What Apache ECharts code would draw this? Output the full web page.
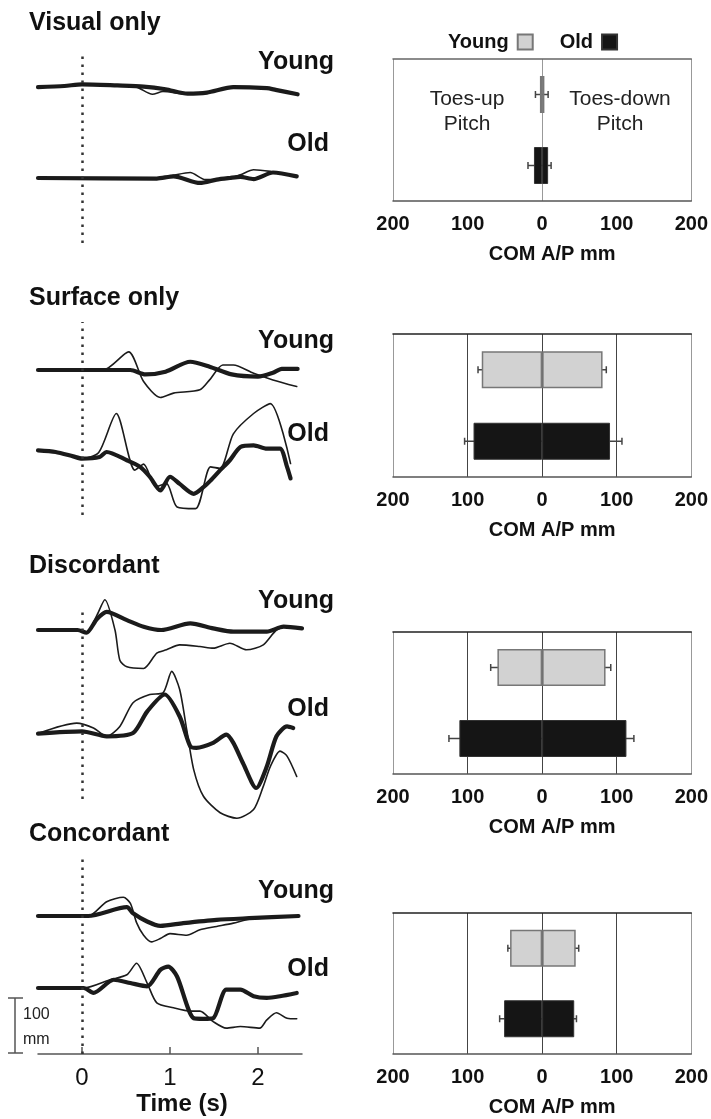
<!DOCTYPE html>
<html>
<head>
<meta charset="utf-8">
<script src="https://cdn.jsdelivr.net/npm/echarts@6/dist/echarts.min.js"></script>
<style>
html, body { margin: 0; padding: 0; background: #fff; }
#main { width: 711px; height: 1119px; }
</style>
</head>
<body>
<div id="main"></div>
<script>
// ---- data ----
var conditions = ['Visual only', 'Surface only', 'Discordant', 'Concordant'];
var groups = ['Old', 'Young'];          // category order, bottom to top
var timeTicks = [0, 1, 2];

// COM traces: [time s, displacement mm], up is positive
var visualYoungThick = [[-0.5,-2],[-0.2,0],[0,3],[0.4,1],[0.7,-1],[0.95,-6],[1.2,-14],[1.42,-12],[1.72,-2],[2.1,-4],[2.2,-7],[2.45,-15]];
var visualYoungThin = [[-0.5,-2],[-0.2,0],[0,3],[0.4,1],[0.62,-2],[0.8,-15],[0.92,-10],[1.2,-15],[1.42,-12],[1.72,-1],[2.1,-3],[2.2,-8],[2.45,-15]];
var visualOldThick = [[-0.5,0],[0.85,-1],[1.04,3],[1.34,-9],[1.53,-3],[1.68,0],[1.8,2],[1.95,-2],[2.17,10],[2.44,3]];
var visualOldThin = [[-0.5,0],[0.85,-1],[1.04,5],[1.23,10],[1.4,-3],[1.53,-3],[1.68,0],[1.8,6],[1.95,15],[2.14,12],[2.17,10],[2.44,3]];

var surfaceYoungThick = [[-0.5,0],[0.55,0],[0.72,-8],[0.95,-3],[1.23,15],[1.45,6],[1.7,-8],[2.0,-12],[2.17,-5],[2.27,2],[2.45,2]];
var surfaceYoungThin = [[-0.5,0],[0.24,0],[0.53,33],[0.7,-21],[0.89,-50],[1.04,-42],[1.34,-36],[1.45,-18],[1.6,9],[1.72,9],[1.95,-6],[2.17,-18],[2.44,-30]];
var surfaceOldThick = [[-0.5,3],[-0.3,0],[-0.1,-8],[0,-12],[0.2,-9],[0.28,0],[0.51,-15],[0.66,-27],[0.77,-45],[0.89,-70],[1.0,-45],[1.11,-58],[1.27,-76],[1.38,-64],[1.46,-52],[1.57,-33],[1.68,-15],[1.8,9],[1.95,12],[2.1,6],[2.25,6],[2.33,-27],[2.37,-48]];
var surfaceOldThin = [[-0.5,3],[-0.3,0],[-0.1,-8],[0,-12],[0.19,-1],[0.39,70],[0.6,-33],[0.7,-22],[0.84,-63],[0.96,-57],[1.08,-100],[1.29,-103],[1.46,-27],[1.57,-30],[1.72,33],[1.95,70],[2.14,88],[2.37,-21]];

var discordantYoungThick = [[-0.5,0],[-0.05,0],[0.05,-5],[0.17,20],[0.28,33],[0.51,18],[0.7,6],[0.9,0],[1.23,12],[1.49,3],[1.72,-3],[2.1,-3],[2.29,6],[2.5,3]];
var discordantYoungThin = [[-0.5,0],[-0.05,0],[0.05,-5],[0.17,27],[0.26,55],[0.375,0],[0.43,-55],[0.51,-67],[0.7,-70],[0.85,-42],[0.96,-36],[1.11,-27],[1.34,-30],[1.49,-33],[1.68,-24],[1.87,-36],[2.06,-27],[2.21,0],[2.33,6],[2.5,3]];
var discordantOldThick = [[-0.5,-1],[0,3],[0.28,-6],[0.58,0],[0.74,39],[0.94,70],[1.11,30],[1.23,-24],[1.3,-27],[1.49,-18],[1.64,-3],[1.72,-18],[1.83,-55],[1.98,-100],[2.1,-61],[2.21,-6],[2.33,12],[2.4,9]];
var discordantOldThin = [[-0.5,-1],[-0.06,18],[0.13,9],[0.28,-6],[0.43,12],[0.58,55],[0.77,70],[0.92,73],[1.02,112],[1.11,79],[1.19,6],[1.27,-67],[1.38,-115],[1.57,-145],[1.76,-155],[1.95,-139],[2.06,-97],[2.14,-61],[2.25,-33],[2.33,-42],[2.44,-79]];

var concordantYoungThick = [[-0.5,0],[0.07,0],[0.51,16],[0.58,5],[0.74,-10],[0.89,-18],[1.15,-13],[1.53,-7],[1.9,-4],[2.46,0]];
var concordantYoungThin = [[-0.5,0],[0.07,0],[0.28,26],[0.47,34],[0.55,23],[0.62,-12],[0.7,-35],[0.79,-47],[0.89,-41],[1.0,-32],[1.19,-35],[1.34,-25],[1.53,-19],[1.72,-13],[1.9,-6],[2.46,0]];
var concordantOldThick = [[-0.5,0],[0.02,0],[0.13,-9],[0.36,15],[0.55,9],[0.74,3],[0.89,33],[0.98,39],[1.08,21],[1.27,-55],[1.38,-56],[1.49,-55],[1.64,-3],[1.8,-3],[1.95,-15],[2.1,-18],[2.25,-15],[2.44,-9]];
var concordantOldThin = [[-0.5,0],[0.02,0],[0.32,15],[0.51,24],[0.62,45],[0.74,9],[0.85,-27],[1.04,-36],[1.23,-42],[1.34,-42],[1.49,-61],[1.64,-73],[1.8,-70],[2.02,-73],[2.1,-58],[2.21,-45],[2.33,-55],[2.44,-56]];

// COM A/P peak (mm), toes-up negative, toes-down positive; one value per condition
var youngToesUp = [-3, -81, -60, -43];
var youngToesDown = [3, 81, 85, 45];
var youngUpErr = [-9, -86, -69, -46];
var youngDownErr = [8, 86, 92, 49];
var oldToesUp = [-11, -92, -111, -51];
var oldToesDown = [8, 91, 113, 43];
var oldUpErr = [-19, -104, -125, -57];
var oldDownErr = [12, 107, 123, 46];

var youngThick = [visualYoungThick, surfaceYoungThick, discordantYoungThick, concordantYoungThick];
var youngThin = [visualYoungThin, surfaceYoungThin, discordantYoungThin, concordantYoungThin];
var oldThick = [visualOldThick, surfaceOldThick, discordantOldThick, concordantOldThick];
var oldThin = [visualOldThin, surfaceOldThin, discordantOldThin, concordantOldThin];

// ---- layout ----
var FONT = 'Liberation Sans, Arial, sans-serif';
var MM = 0.55;                 // px per mm on the trace panels
var leftPanels = [
    {top: 52, bottom: 243, young: 86, old: 178, title: 23, youngLab: 62, oldLab: 144},
    {top: 322, bottom: 515, young: 370, old: 452, title: 298, youngLab: 341, oldLab: 434},
    {top: 607, bottom: 799, young: 630, old: 733, title: 566, youngLab: 601, oldLab: 709},
    {top: 857, bottom: 1054, young: 916, old: 988, title: 834, youngLab: 891, oldLab: 969}
];
var rightPanels = [
    {top: 59, height: 142}, {top: 334, height: 143}, {top: 632, height: 142}, {top: 913, height: 141}
];

var myChart = echarts.init(document.getElementById('main'));

var grids = [], xAxes = [], yAxes = [], series = [], graphics = [];

function trace(data, idx, thick) {
    return {
        type: 'line', xAxisIndex: idx, yAxisIndex: idx, data: data,
        symbol: 'none', smooth: 0.25, clip: false, silent: true,
        lineStyle: {color: '#1b1b1b', width: thick ? 4.2 : 1.6, cap: 'round', join: 'round'},
        z: thick ? 3 : 4
    };
}

leftPanels.forEach(function(p, i) {
    [p.young, p.old].forEach(function(base, k) {
        var idx = grids.length;
        var last = (i === 3 && k === 0);
        grids.push({left: 38, width: 264, top: p.top, height: p.bottom - p.top});
        xAxes.push({
            gridIndex: idx, type: 'value', min: -0.5, max: 2.5, position: 'bottom',
            show: last,
            axisLine: {onZero: false, lineStyle: {color: '#555', width: 1.5}},
            axisTick: {inside: true, length: 7, customValues: timeTicks, lineStyle: {color: '#555', width: 1.5}},
            axisLabel: {customValues: timeTicks, fontSize: 24, color: '#111', margin: 12, fontFamily: FONT},
            splitLine: {show: false},
            name: 'Time (s)', nameLocation: 'middle', nameGap: 38,
            nameTextStyle: {fontSize: 24, fontWeight: 'bold', color: '#111', fontFamily: FONT, padding: [0, 0, 0, 24]}
        });
        yAxes.push({
            gridIndex: idx, type: 'value', show: false,
            min: -(p.bottom - base) / MM, max: (base - p.top) / MM,
            splitLine: {show: false}
        });
        var thick = trace(k === 0 ? youngThick[i] : oldThick[i], idx, true);
        var thin = trace(k === 0 ? youngThin[i] : oldThin[i], idx, false);
        if (k === 0) {
            thick.markLine = {
                silent: true, symbol: 'none', label: {show: false},
                lineStyle: {color: '#333', type: [2.5, 5.5], width: 2.5},
                data: [{xAxis: 0}]
            };
        }
        series.push(thick, thin);
    });
    graphics.push(
        {type: 'text', x: 29, y: p.title, style: {text: conditions[i], font: 'bold 25px ' + FONT, fill: '#111', verticalAlign: 'middle'}},
        {type: 'text', x: 334, y: p.youngLab, style: {text: 'Young', font: 'bold 25px ' + FONT, fill: '#111', align: 'right', verticalAlign: 'middle'}},
        {type: 'text', x: 329, y: p.oldLab, style: {text: 'Old', font: 'bold 25px ' + FONT, fill: '#111', align: 'right', verticalAlign: 'middle'}}
    );
});

function errorItem(params, api) {
    var a = api.coord([api.value(0), api.value(2)]);
    var b = api.coord([api.value(1), api.value(2)]);
    var h = 3.5, st = {stroke: '#444', lineWidth: 1.5};
    return {type: 'group', children: [
        {type: 'line', shape: {x1: a[0], y1: a[1], x2: b[0], y2: b[1]}, style: st},
        {type: 'line', shape: {x1: a[0], y1: a[1] - h, x2: a[0], y2: a[1] + h}, style: st},
        {type: 'line', shape: {x1: b[0], y1: b[1] - h, x2: b[0], y2: b[1] + h}, style: st}
    ]};
}

rightPanels.forEach(function(p, i) {
    var idx = grids.length;
    var splitColors = i === 0
        ? ['#999', 'rgba(0,0,0,0)', '#999', 'rgba(0,0,0,0)', '#999']
        : ['#999', '#444', '#444', '#444', '#999'];
    grids.push({left: 393, width: 300, top: p.top, height: p.height});
    xAxes.push({
        gridIndex: idx, type: 'value', min: -200, max: 200, interval: 100, position: 'bottom',
        axisLine: {show: true, onZero: false, lineStyle: {color: '#555', width: 1.5}},
        axisTick: {inside: true, length: 5, lineStyle: {color: '#555'}},
        axisLabel: {formatter: function(v) { return Math.abs(v); }, fontSize: 20, fontWeight: 'bold', color: '#111', margin: 13, fontFamily: FONT},
        splitLine: {show: true, lineStyle: {color: splitColors, width: 1}},
        name: 'COM A/P mm', nameLocation: 'middle', nameGap: 43,
        nameTextStyle: {fontSize: 20, fontWeight: 'bold', color: '#111', fontFamily: FONT, padding: [0, 0, 0, 20]}
    });
    xAxes.push({
        gridIndex: idx, type: 'value', min: -200, max: 200, interval: 100, position: 'top',
        axisLine: {show: true, onZero: false, lineStyle: {color: i === 0 ? '#666' : '#222', width: 1.5}},
        axisTick: {show: false}, axisLabel: {show: false}, splitLine: {show: false}
    });
    var xi = xAxes.length - 2;
    yAxes.push({gridIndex: idx, type: 'category', data: groups, show: false});
    var yi = yAxes.length - 1;
    var stack = 'c' + i;
    var youngStyle = {color: '#d2d2d2', borderColor: '#777', borderWidth: 1.5};
    var oldStyle = {color: '#151515', borderColor: '#333', borderWidth: 1};
    [
        ['Young', ['-', youngToesUp[i]], youngStyle],
        ['Young', ['-', youngToesDown[i]], youngStyle],
        ['Old', [oldToesUp[i], '-'], oldStyle],
        ['Old', [oldToesDown[i], '-'], oldStyle]
    ].forEach(function(s) {
        series.push({
            type: 'bar', name: s[0], xAxisIndex: xi, yAxisIndex: yi, stack: stack,
            data: s[1], barWidth: 37, itemStyle: s[2], silent: true, z: 3
        });
    });
    series.push({
        type: 'custom', name: 'err', xAxisIndex: xi, yAxisIndex: yi, z: 1, silent: true,
        renderItem: errorItem, encode: {x: [0, 1], y: 2},
        data: [[oldUpErr[i], oldDownErr[i], 0], [youngUpErr[i], youngDownErr[i], 1]]
    });
});

// toes-up / toes-down captions
graphics.push(
    {type: 'text', x: 467, y: 112, style: {text: 'Toes-up\nPitch', font: '21px ' + FONT, fill: '#222', align: 'center', verticalAlign: 'middle', lineHeight: 25}},
    {type: 'text', x: 620, y: 112, style: {text: 'Toes-down\nPitch', font: '21px ' + FONT, fill: '#222', align: 'center', verticalAlign: 'middle', lineHeight: 25}}
);

// 100 mm scale bar
var sbBottom = 1053, sbTop = sbBottom - 100 * MM;
var sbStyle = {stroke: '#555', lineWidth: 1.5};
graphics.push(
    {type: 'line', shape: {x1: 15, y1: sbTop, x2: 15, y2: sbBottom}, style: sbStyle},
    {type: 'line', shape: {x1: 8, y1: sbTop, x2: 23, y2: sbTop}, style: sbStyle},
    {type: 'line', shape: {x1: 8, y1: sbBottom, x2: 23, y2: sbBottom}, style: sbStyle},
    {type: 'text', x: 23, y: sbTop + 17, style: {text: '100', font: '16px ' + FONT, fill: '#222', verticalAlign: 'middle'}},
    {type: 'text', x: 23, y: sbTop + 42, style: {text: 'mm', font: '16px ' + FONT, fill: '#222', verticalAlign: 'middle'}}
);

var option = {
    animation: false,
    backgroundColor: '#fff',
    legend: {
        data: ['Young', 'Old'], left: 443, top: 27, align: 'right',
        itemWidth: 15, itemHeight: 15, itemGap: 26, icon: 'rect', selectedMode: false,
        textStyle: {fontSize: 20, fontWeight: 'bold', color: '#111', fontFamily: FONT, padding: [0, 4, 0, 0]}
    },
    grid: grids,
    xAxis: xAxes,
    yAxis: yAxes,
    graphic: graphics,
    series: series
};
myChart.setOption(option);
</script>
</body>
</html>
